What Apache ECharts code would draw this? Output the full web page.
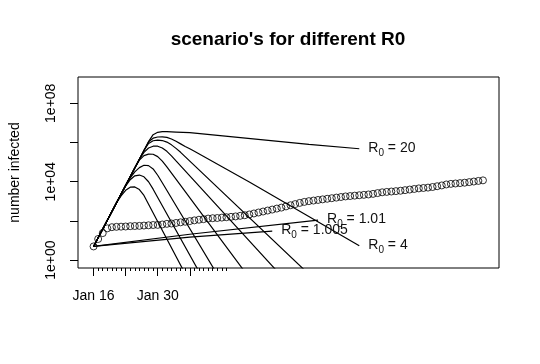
<!DOCTYPE html>
<html><head><meta charset="utf-8">
<script src="https://cdn.jsdelivr.net/npm/echarts@6/dist/echarts.min.js"></script>
<style>html,body{margin:0;padding:0;background:#fff}#c{width:540px;height:364px}</style>
</head><body><div id="c"></div>
<script>
const FONT = '"Liberation Sans", Arial, sans-serif';
const titleText = "scenario's for different R0";
const yAxisName = 'number infected';

// x axis: days since Jan 16
const xTickDays = [0, 7, 14, 21];
const xMinorTickDays = [0,1,2,3,4,5,6,7,8,9,10,11,12,13,14,15,16,17,18,19,20,21,22,23,24,25,26,27,28,29];
const xLabelDays = [0, 14];
const xLabelTexts = ['Jan 16', 'Jan 30'];

// y axis (log)
const yTickValues = [1, 1e2, 1e4, 1e6, 1e8];
const yLabelValues = [1, 1e4, 1e8];
const yLabelTexts = ['1e+00', '1e+04', '1e+08'];

// observed cases (open circles), one per day from Jan 16
const observed = [5,12,24,42,48,50,51,52,54,55,56,58,60,62,63,66,71,74,79,85,91,98,107,115,123,132,138,141,148,155,162,170,182,195,214,240,269,302,339,380,427,479,550,631,724,832,933,1023,1096,1175,1259,1349,1445,1549,1660,1778,1862,1950,2042,2138,2239,2399,2630,2884,3020,3162,3311,3467,3715,3981,4266,4571,4786,5012,5370,5888,6457,7244,7762,8128,8511,8913,9550,10233,10965,11749];

// scenario curves: [day, number infected]
const curve1 = [[0,5],[5,841],[6,1900],[7,3630],[8,5250],[9,5400],[10,3980],[11,2000],[20,0.2]];
const curve2 = [[0,5],[6,2340],[7,6030],[8,12600],[9,20000],[10,21900],[11,17800],[12,10000],[13,4170],[14,1580],[23,0.263]];
const curve3 = [[0,5],[7,6530],[8,15800],[9,31600],[10,52500],[11,69200],[12,66100],[13,44700],[14,21400],[15,8910],[27,0.186]];
const curve4 = [[0,5],[9,50700],[10,126000],[11,214000],[12,257000],[13,251000],[14,191000],[15,112000],[16,57500],[33,0.257]];
const curve5 = [[0,5],[10,141000],[11,316000],[12,525000],[13,646000],[14,646000],[15,525000],[16,355000],[17,209000],[18,115000],[40,0.282]];
const curve6 = [[0,5],[11,394000],[12,891000],[13,1230000],[14,1320000],[15,1260000],[16,1050000],[17,759000],[18,501000],[19,316000],[47,0.192]];
const curveR4 = [[0,5],[12,1100000],[13,1660000],[14,1910000],[15,1950000],[16,1820000],[17,1510000],[18,1150000],[19,851000],[20,631000],[21,479000],[22,355000],[34,9770],[58,5.37]];
const curveR20 = [[0,5],[12,1100000],[13,2510000],[14,3310000],[15,3550000],[16,3550000],[17,3470000],[18,3390000],[21,3160000],[47,794000],[58,479000]];
const curveR101 = [[0,5],[21,21],[49,110]];
const curveR1005 = [[0,5],[21,15],[39,30]];

const curveList = [curve1, curve2, curve3, curve4, curve5, curve6, curveR4, curveR20, curveR101, curveR1005];
const curveR0Texts = [null, null, null, null, null, null, '4', '20', '1.01', '1.005'];

const chart = echarts.init(document.getElementById('c'), null, {renderer: 'canvas'});

const lineSeries = curveList.map((d, i) => {
  const s = {
    type: 'line', data: d, symbol: 'none', showSymbol: false, clip: true,
    lineStyle: {color: '#000', width: 1.2}, z: 3, silent: true
  };
  const t = curveR0Texts[i];
  if (t) {
    s.endLabel = {
      show: true, distance: 9, offset: [0, 4],
      formatter: '{r|R}{s|0}{r| = ' + t + '}',
      rich: {
        r: {fontSize: 14, fontFamily: FONT, color: '#111', lineHeight: 14, verticalAlign: 'top'},
        s: {fontSize: 10, fontFamily: FONT, color: '#111', lineHeight: 24}
      }
    };
  }
  return s;
});

const option = {
  animation: false,
  backgroundColor: '#fff',
  title: {
    text: titleText, left: 288, top: 30, textAlign: 'center', padding: 0,
    textStyle: {fontFamily: FONT, fontSize: 19, fontWeight: 'bold', color: '#000'}
  },
  grid: {left: 77, right: 41, top: 77, bottom: 96, show: true, borderColor: '#000', borderWidth: 1, backgroundColor: 'transparent', containLabel: false},
  xAxis: [{
    type: 'value', min: -3.4, max: 88.5, position: 'bottom',
    axisLine: {show: false, onZero: false}, splitLine: {show: false},
    axisTick: {show: true, customValues: xTickDays, length: 8, lineStyle: {color: '#000', width: 1}},
    axisLabel: {customValues: xLabelDays, margin: 21, fontSize: 14, fontFamily: FONT, color: '#000',
      formatter: v => { const k = xLabelDays.indexOf(Math.round(v)); return k >= 0 ? xLabelTexts[k] : ''; }}
  }, {
    type: 'value', min: -3.4, max: 88.5, position: 'bottom', offset: 0,
    axisLine: {show: false, onZero: false}, splitLine: {show: false},
    axisTick: {show: true, customValues: xMinorTickDays, length: 3, lineStyle: {color: '#000', width: 1}},
    axisLabel: {show: false}
  }],
  yAxis: {
    type: 'log', logBase: 10, min: 0.398, max: 2.19e9, position: 'left',
    axisLine: {show: false, onZero: false}, splitLine: {show: false}, minorTick: {show: false},
    axisTick: {show: true, customValues: yTickValues, length: 8, lineStyle: {color: '#000', width: 1}},
    axisLabel: {customValues: yLabelValues, rotate: 90, margin: 20, fontSize: 14, fontFamily: FONT, color: '#000',
      formatter: v => { const k = yLabelValues.findIndex(x => Math.abs(Math.log10(x) - Math.log10(v)) < 0.01); return k >= 0 ? yLabelTexts[k] : ''; }},
    name: yAxisName, nameLocation: 'middle', nameGap: 56,
    nameTextStyle: {fontSize: 14, fontFamily: FONT, color: '#000'}
  },
  series: lineSeries.concat([{
    type: 'scatter', data: observed.map((v, i) => [i, v]),
    symbol: 'circle', symbolSize: 7, z: 4, silent: true,
    itemStyle: {color: 'rgba(0,0,0,0)', borderColor: '#000', borderWidth: 1}
  }])
};
chart.setOption(option);
</script>
</body></html>
